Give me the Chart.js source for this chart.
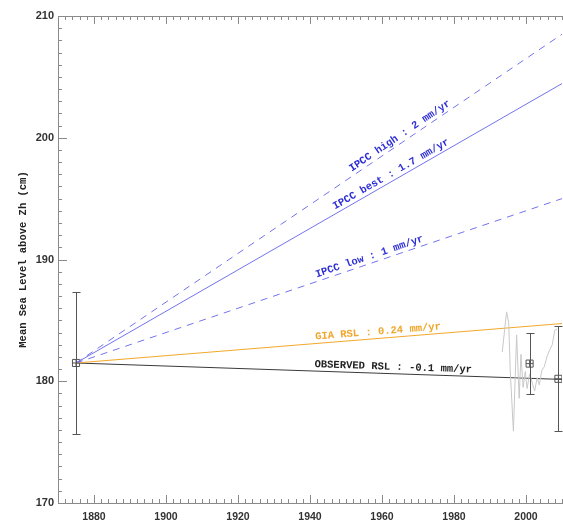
<!DOCTYPE html>
<html>
<head>
<meta charset="utf-8">
<script src="https://cdn.jsdelivr.net/npm/chart.js@4.4.1/dist/chart.umd.min.js"></script>
<style>
html,body{margin:0;padding:0;background:#fff;}
#wrap{width:563px;height:520px;position:relative;}
</style>
</head>
<body>
<div id="wrap"><canvas id="c" width="563" height="520"></canvas></div>
<script>
// ---- data ----
const trendStartYear = 1875;
const trendStartValue = 181.5;
const trendEndYear = 2010;
const trendNames = ['IPCC high : 2 mm/yr', 'IPCC best : 1.7 mm/yr', 'IPCC low : 1 mm/yr', 'GIA RSL : 0.24 mm/yr', 'OBSERVED RSL : -0.1 mm/yr'];
const trendEndValues = [208.5, 204.45, 195.0, 184.74, 180.15];
const labelYears = [1952.2, 1947.5, 1942.2, 1941.6, 1941.2];

const obsYears = [1875, 2001, 2009];
const obsMeans = [181.5, 181.45, 180.2];
const obsErrors = [5.85, 2.5, 4.3];

const tgYears = [1993.4, 1994.6, 1995.2, 1995.6, 1996.5, 1997.4, 1998.1, 1998.6, 1999.2, 1999.8, 2000.3, 2001.0, 2001.7, 2002.4, 2003.1, 2003.7, 2004.4, 2005.1, 2005.8, 2006.6, 2007.3, 2008.0, 2008.7];
const tgValues = [182.4, 185.7, 184.8, 181.0, 175.9, 183.8, 178.6, 182.2, 179.5, 180.8, 179.4, 180.6, 179.9, 179.2, 180.3, 179.7, 180.9, 181.2, 182.0, 182.6, 183.0, 184.2, 184.3];

const yTickLabels = [170, 180, 190, 200, 210];
const xTickLabels = [1880, 1900, 1920, 1940, 1960, 1980, 2000];

// ---- styles ----
const lineColors = ['#7373ee', '#7373ee', '#7373ee', '#f2a82a', '#3a3a3a'];
const textColors = ['#2e2ed6', '#2e2ed6', '#2e2ed6', '#f0a62a', '#222222'];
const lineDashes = [[7, 6], [], [7, 6], [], []];

const datasets = trendNames.map((n, i) => ({
  label: n,
  type: 'line',
  data: [{x: trendStartYear, y: trendStartValue}, {x: trendEndYear, y: trendEndValues[i]}],
  borderColor: lineColors[i],
  borderWidth: 1,
  borderDash: lineDashes[i],
  pointRadius: 0,
  fill: false,
  tension: 0
}));
datasets.unshift({
  label: 'tide gauge',
  type: 'line',
  data: tgYears.map((x, i) => ({x, y: tgValues[i]})),
  borderColor: '#c8c8c8',
  borderWidth: 1,
  pointRadius: 0,
  fill: false,
  tension: 0
});
datasets.push({
  label: 'obs-box',
  type: 'scatter',
  data: obsYears.map((x, i) => ({x, y: obsMeans[i]})),
  pointStyle: 'rect',
  pointRadius: 5,
  borderColor: '#555',
  backgroundColor: 'rgba(0,0,0,0)',
  borderWidth: 1
});
datasets.push({
  label: 'obs-cross',
  type: 'scatter',
  data: obsYears.map((x, i) => ({x, y: obsMeans[i]})),
  pointStyle: 'cross',
  pointRadius: 3.5,
  borderColor: '#555',
  borderWidth: 1
});

const axisPlugin = {
  id: 'axisPlugin',
  beforeDatasetsDraw(chart) {
    const ctx = chart.ctx, a = chart.chartArea;
    const xs = chart.scales.x, ys = chart.scales.y;
    ctx.save();
    ctx.strokeStyle = '#8a8a8a';
    ctx.lineWidth = 1;
    ctx.beginPath();
    ctx.moveTo(a.left + 0.5, a.bottom + 0.5); ctx.lineTo(a.left + 0.5, a.top + 0.5);
    ctx.lineTo(a.right + 2, a.top + 0.5);
    ctx.moveTo(a.left + 0.5, a.bottom + 0.5); ctx.lineTo(a.right + 2, a.bottom + 0.5);
    xs.ticks.forEach(t => {
      const px = Math.round(xs.getPixelForValue(t.value)) + 0.5;
      const len = (t.value % 20 === 0) ? 8 : 4;
      ctx.moveTo(px, a.bottom); ctx.lineTo(px, a.bottom - len);
      ctx.moveTo(px, a.top); ctx.lineTo(px, a.top + len);
    });
    ys.ticks.forEach(t => {
      const py = Math.round(ys.getPixelForValue(t.value)) + 0.5;
      const len = (t.value % 10 === 0) ? 9 : 4;
      ctx.moveTo(a.left, py); ctx.lineTo(a.left + len, py);
    });
    ctx.stroke();
    ctx.restore();
  },
  afterDatasetsDraw(chart) {
    const ctx = chart.ctx;
    const xs = chart.scales.x, ys = chart.scales.y;
    ctx.save();
    ctx.strokeStyle = '#555';
    ctx.lineWidth = 1;
    ctx.beginPath();
    obsYears.forEach((yr, i) => {
      const px = Math.round(xs.getPixelForValue(yr)) + 0.5;
      const top = Math.round(ys.getPixelForValue(obsMeans[i] + obsErrors[i])) + 0.5;
      const bot = Math.round(ys.getPixelForValue(obsMeans[i] - obsErrors[i])) + 0.5;
      ctx.moveTo(px, top); ctx.lineTo(px, bot);
      ctx.moveTo(px - 4, top); ctx.lineTo(px + 4, top);
      ctx.moveTo(px - 4, bot); ctx.lineTo(px + 4, bot);
    });
    ctx.stroke();
    ctx.font = 'bold 10.5px "Liberation Mono", "DejaVu Sans Mono", monospace';
    ctx.textAlign = 'left';
    ctx.textBaseline = 'alphabetic';
    trendNames.forEach((name, i) => {
      const x0 = xs.getPixelForValue(trendStartYear), y0 = ys.getPixelForValue(trendStartValue);
      const x1 = xs.getPixelForValue(trendEndYear), y1 = ys.getPixelForValue(trendEndValues[i]);
      const ang = Math.atan2(y1 - y0, x1 - x0);
      const f = (labelYears[i] - trendStartYear) / (trendEndYear - trendStartYear);
      const v = trendStartValue + f * (trendEndValues[i] - trendStartValue);
      const px = xs.getPixelForValue(labelYears[i]), py = ys.getPixelForValue(v);
      ctx.save();
      ctx.translate(px, py);
      ctx.rotate(ang);
      ctx.fillStyle = textColors[i];
      ctx.fillText(name, 0, -4);
      ctx.restore();
    });
    ctx.restore();
  }
};

new Chart(document.getElementById('c'), {
  type: 'line',
  data: { datasets },
  options: {
    responsive: false,
    animation: false,
    devicePixelRatio: 1,
    layout: { autoPadding: false, padding: { top: 16, right: 1, left: 0, bottom: 0 } },
    plugins: { legend: { display: false }, tooltip: { enabled: false } },
    scales: {
      x: {
        type: 'linear',
        min: 1870, max: 2010,
        afterBuildTicks(s) {
          const t = [];
          for (let v = 1870; v <= 2010; v += 2) t.push({value: v});
          s.ticks = t;
        },
        afterFit(s) { s.height = 17; s.paddingLeft = 0; s.paddingRight = 0; },
        ticks: {
          autoSkip: false,
          maxRotation: 0,
          padding: 8,
          color: '#333',
          font: { family: '"Liberation Sans", Arial, sans-serif', size: 10.5, weight: 'bold' },
          callback: v => xTickLabels.includes(v) ? String(v) : ''
        },
        grid: { display: false, drawTicks: false },
        border: { display: false }
      },
      y: {
        type: 'linear',
        min: 170, max: 210,
        afterBuildTicks(s) {
          const t = [];
          for (let v = 170; v <= 210; v += 1) t.push({value: v});
          s.ticks = t;
        },
        afterFit(s) { s.width = 58; s.paddingTop = 0; s.paddingBottom = 0; },
        ticks: {
          autoSkip: false,
          padding: 4,
          color: '#333',
          font: { family: '"Liberation Sans", Arial, sans-serif', size: 11, weight: 'bold' },
          callback: v => yTickLabels.includes(v) ? String(v) : ''
        },
        grid: { display: false, drawTicks: false },
        border: { display: false },
        title: {
          display: true,
          text: 'Mean Sea Level above Zh (cm)',
          color: '#222',
          padding: { top: 17, bottom: 0 },
          font: { family: '"Liberation Mono", "DejaVu Sans Mono", monospace', size: 10.5, weight: 'bold' }
        }
      }
    }
  },
  plugins: [axisPlugin]
});
</script>
</body>
</html>
